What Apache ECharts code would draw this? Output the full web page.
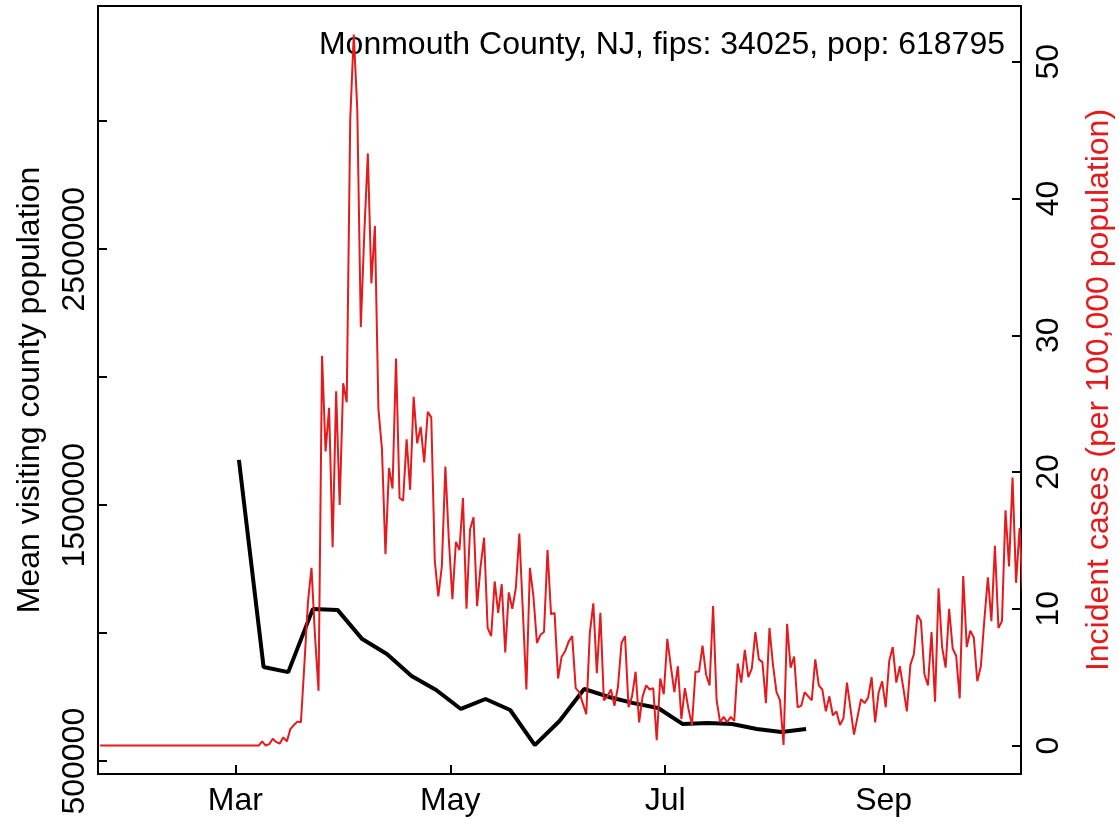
<!DOCTYPE html>
<html>
<head>
<meta charset="utf-8">
<script src="https://cdn.jsdelivr.net/npm/echarts@6/dist/echarts.min.js"></script>
<style>
html,body{margin:0;padding:0;background:#fff;}
#chart{width:1119px;height:822px;}
</style>
</head>
<body>
<div id="chart"></div>
<script>
// ---- data ----
const caseStartDate = '2020-01-22';
const caseValues = [
 0,0,0,0,0,0,0,0,0,0, 0,0,0,0,0,0,0,0,0,0,
 0,0,0,0,0,0,0,0,0,0, 0,0,0,0,0,0,0,0,0,0,
 0,0,0,0,0,0,0.3,0,0.1,0.5,
 0.25,0.15,0.6,0.3,1.2,1.5,1.75,1.7,6,10.5,
 13,8,4,28.5,21.5,24.7,14.5,25.9,17.6,26.5,
 25.1,45.8,52,46.5,30.6,37.5,43.3,33.8,38,24.6,
 21.7,14,20.3,18.8,28.3,18.1,17.9,22.4,18.7,25.5,
 22.1,23.3,20.7,24.4,24,13.5,10.9,13.1,20.4,15,
 10.7,14.9,14.3,18.1,10,15.8,16.7,10.2,13.1,15.2,
 8.6,8.0,12,9.7,11.8,6.8,11.2,10,11.5,15.5,
 9.8,4.1,13,10.9,7.5,8.1,8.3,14.3,9.6,9.7,
 4.9,6.5,6.9,7.6,8.0,4.2,3.9,3.1,2.3,8.2,
 10.4,5.3,9.7,3.3,3.6,4.1,2.9,4.3,7.5,8.0,
 2.8,3.6,5.4,1.7,3.6,4.4,4.1,4.2,0.4,4.9,
 3.75,7.8,5.8,3.9,5.8,1.95,4.2,2.7,1.5,5.4,
 5.4,7.3,5.2,4.4,10.2,3.3,1.7,2.1,1.7,2.1,
 1.8,6.0,4.6,7.0,5.0,5.65,8.3,6.3,6.1,3.1,
 8.6,5.9,3.9,3.3,0.05,8.9,5.7,6.5,2.8,2.9,
 3.9,3.6,3.3,6.3,4.4,4.1,2.5,3.6,2.2,2.5,
 1.5,2.0,4.6,2.7,0.8,2.1,3.4,3.1,3.5,5.0,
 1.7,3.9,4.7,2.8,6.2,7.2,4.6,5.8,4.2,2.5,
 5.9,6.7,9.55,9.1,5.2,4.4,8.3,3.2,11.5,7.2,
 5.7,10.0,7.1,6.55,3.45,12.4,7.2,8.4,7.9,4.7,
 5.8,9.2,12.3,9.1,14.6,8.6,9.1,17.2,13.1,19.6,
 11.9,15.9,10.9
];
const visitStartDate = '2020-03-02';   // weekly values
const visitStepDays = 7;
const visitValues = [
 1677000, 868000, 848000, 1095000, 1091000, 977000, 919000, 833000,
 778000, 704000, 743000, 700000, 563000, 657000, 782000, 751000,
 727000, 708000, 645000, 649000, 645000, 626000, 614000, 626000
];
const xTickDates  = ['2020-03-01', '2020-05-01', '2020-07-01', '2020-09-01'];
const xTickLabels = ['Mar', 'May', 'Jul', 'Sep'];
const leftTickValues  = [500000, 1000000, 1500000, 2000000, 2500000, 3000000];
const leftLabelValues = [500000, 1500000, 2500000];
const rightTickValues = [0, 10, 20, 30, 40, 50];
const titleText = 'Monmouth County, NJ, fips: 34025, pop: 618795';
const leftAxisName = 'Mean visiting county population';
const rightAxisName = 'Incident cases (per 100,000 population)';

// ---- build ----
const DAY = 864e5;
const t0 = Date.parse(caseStartDate);
const dayIdx = d => Math.round((Date.parse(d) - t0) / DAY);
const caseData = caseValues.map((v, i) => [i, v]);
const vs = dayIdx(visitStartDate);
const visitData = visitValues.map((v, i) => [vs + i * visitStepDays, v]);
const xTicks = xTickDates.map(dayIdx);
const xLabelMap = {};
xTicks.forEach((t, i) => { xLabelMap[t] = xTickLabels[i]; });
const xMax = caseValues.length - 1;
const caseAxisOffset = 0.6; // second (overlay) x scale used by the case series, as in par(new=TRUE)

const FONT = '"Liberation Sans", Arial, Helvetica, sans-serif';
const FS = 32;
const RED = '#e41a1c';

const chart = echarts.init(document.getElementById('chart'), null, {renderer: 'canvas'});
chart.setOption({
  animation: false,
  backgroundColor: '#fff',
  textStyle: {fontFamily: FONT},
  grid: {left: 98, right: 98, top: 6, bottom: 48, show: true, borderColor: '#000', borderWidth: 2,
    containLabel: false, outerBoundsMode: 'none'},
  graphic: [{
    type: 'text', right: 114, top: 29,
    style: {text: titleText, font: FS + 'px ' + FONT, fill: '#000'}
  }],
  xAxis: [{
    type: 'value', min: 0, max: xMax,
    splitLine: {show: false},
    axisLine: {show: false, onZero: false},
    axisTick: {show: true, inside: true, length: 9, customValues: xTicks, lineStyle: {color: '#000', width: 2}},
    axisLabel: {show: true, customValues: xTicks, margin: 11, color: '#000', fontSize: FS, fontFamily: FONT,
      formatter: v => xLabelMap[v] || ''}
  }, {
    type: 'value', min: -caseAxisOffset, max: xMax - caseAxisOffset, show: false,
    splitLine: {show: false}, axisLine: {onZero: false}
  }],
  yAxis: [{
    type: 'value', position: 'left', min: 450000, max: 3450000,
    splitLine: {show: false},
    axisLine: {show: false, onZero: false},
    axisTick: {show: true, inside: true, length: 9, customValues: leftTickValues, lineStyle: {color: '#000', width: 2}},
    axisLabel: {show: true, customValues: leftLabelValues, rotate: 90, margin: 7, color: '#000', fontSize: FS, fontFamily: FONT,
      formatter: v => String(v)},
    name: leftAxisName, nameLocation: 'middle', nameRotate: 90, nameGap: 52,
    nameTextStyle: {color: '#000', fontSize: FS, fontFamily: FONT}
  }, {
    type: 'value', position: 'right', min: -2.08, max: 54.08,
    splitLine: {show: false},
    axisLine: {show: false, onZero: false},
    axisTick: {show: true, inside: true, length: 9, customValues: rightTickValues, lineStyle: {color: '#000', width: 2}},
    axisLabel: {show: true, customValues: rightTickValues, rotate: 90, margin: 12, color: '#000', fontSize: FS, fontFamily: FONT,
      formatter: v => String(v)},
    name: rightAxisName, nameLocation: 'middle', nameRotate: 90, nameGap: 62,
    nameTextStyle: {color: RED, fontSize: FS, fontFamily: FONT}
  }],
  series: [{
    type: 'line', name: 'visits', data: visitData, xAxisIndex: 0, yAxisIndex: 0,
    showSymbol: false, symbol: 'none', z: 2,
    lineStyle: {color: '#000', width: 4}
  }, {
    type: 'line', name: 'cases', data: caseData, xAxisIndex: 1, yAxisIndex: 1,
    showSymbol: false, symbol: 'none', z: 3,
    lineStyle: {color: RED, width: 2}
  }]
});
</script>
</body>
</html>
